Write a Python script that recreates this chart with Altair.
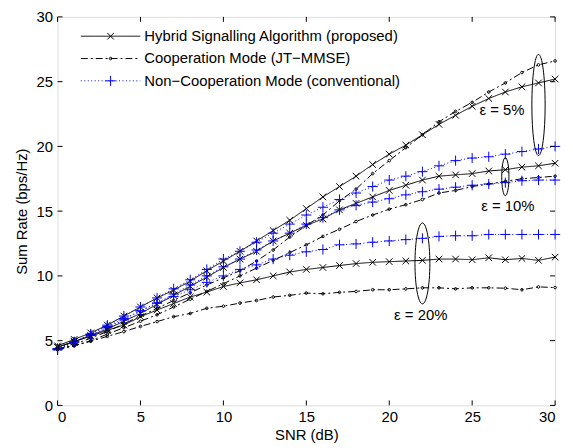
import altair as alt
import pandas as pd

snr = list(range(31))

hyb_5 = [4.6, 5.1, 5.6, 6.2, 6.9, 7.6, 8.3, 8.9, 9.6, 10.4, 11.15, 11.9, 12.7, 13.5, 14.3, 15.2,
         16.1, 16.9, 17.7, 18.6, 19.4, 20.1, 20.9, 21.7, 22.4, 23.1, 23.7, 24.2, 24.6, 24.9, 25.2]
coop_5 = [4.3, 4.7, 5.2, 5.7, 6.3, 6.9, 7.5, 8.1, 8.7, 9.3, 9.85, 10.4, 11.15, 12.0, 13.0, 13.9,
          14.7, 15.8, 16.7, 17.9, 18.9, 19.9, 20.9, 21.9, 22.7, 23.4, 24.2, 24.9, 25.7, 26.3, 26.6]
nc_5 = [4.3, 4.9, 5.5, 6.2, 6.9, 7.6, 8.3, 9.0, 9.7, 10.5, 11.3, 11.9, 12.6, 13.3, 14.0, 14.7,
        15.3, 15.9, 16.4, 16.9, 17.4, 17.7, 18.05, 18.5, 18.9, 19.1, 19.2, 19.4, 19.6, 19.8, 20.0]

hyb_10 = [4.5, 4.9, 5.4, 5.9, 6.5, 7.1, 7.8, 8.5, 9.2, 9.9, 10.65, 11.3, 11.9, 12.7, 13.3, 13.9,
          14.4, 15.1, 15.6, 16.1, 16.6, 17.0, 17.4, 17.7, 17.8, 17.9, 18.1, 18.2, 18.4, 18.5, 18.7]
coop_10 = [4.3, 4.6, 5.0, 5.5, 6.0, 6.5, 7.0, 7.6, 8.2, 8.8, 9.4, 10.0, 10.6, 11.2, 11.8, 12.4,
           13.05, 13.6, 14.2, 14.7, 15.15, 15.5, 15.9, 16.4, 16.6, 16.9, 17.1, 17.3, 17.5, 17.6, 17.7]
nc_10 = [4.4, 4.9, 5.4, 6.0, 6.6, 7.3, 7.9, 8.6, 9.3, 10.0, 10.7, 11.3, 12.0, 12.7, 13.3, 14.0,
         14.5, 15.1, 15.45, 15.7, 15.96, 16.26, 16.5, 16.7, 16.85, 17.0, 17.1, 17.2, 17.35, 17.4, 17.4]

hyb_20 = [4.5, 4.95, 5.33, 5.8, 6.2, 6.85, 7.36, 7.87, 8.37, 8.75, 9.18, 9.46, 9.7, 10.0, 10.3, 10.5,
          10.65, 10.8, 10.95, 11.05, 11.1, 11.15, 11.2, 11.3, 11.3, 11.25, 11.4, 11.25, 11.35, 11.2, 11.45]
coop_20 = [4.4, 4.6, 4.95, 5.33, 5.7, 6.1, 6.47, 6.85, 7.1, 7.5, 7.66, 7.9, 8.1, 8.37, 8.5, 8.67,
           8.62, 8.73, 8.8, 8.93, 8.93, 9.0, 9.08, 9.08, 9.0, 9.08, 9.08, 9.05, 8.93, 9.15, 9.1]
nc_20 = [4.3, 4.9, 5.5, 6.1, 6.7, 7.3, 7.9, 8.4, 8.93, 9.5, 10.0, 10.5, 10.85, 11.3, 11.6, 11.86,
         12.04, 12.4, 12.47, 12.6, 12.7, 12.8, 12.9, 13.05, 13.1, 13.1, 13.2, 13.2, 13.2, 13.2, 13.2]

methods = ["Hybrid Signalling Algorithm (proposed)",
           "Cooperation Mode (JT\u2212MMSE)",
           "Non\u2212Cooperation Mode (conventional)"]

series = {
    ("5%", methods[0]): hyb_5, ("5%", methods[1]): coop_5, ("5%", methods[2]): nc_5,
    ("10%", methods[0]): hyb_10, ("10%", methods[1]): coop_10, ("10%", methods[2]): nc_10,
    ("20%", methods[0]): hyb_20, ("20%", methods[1]): coop_20, ("20%", methods[2]): nc_20,
}

ticks = [0, 5, 10, 15, 20, 25, 30]

ell_x = [29, 27, 22]
ell_y = [23.2, 17.66, 10.96]
ell_half_px = [51, 19.2, 40.8]
ell_ratio = [0.131, 0.19, 0.184]

ann_text = ["\u03b5 = 5%", "\u03b5 = 10%", "\u03b5 = 20%"]
ann_x = [26.8, 27.15, 21.9]
ann_y = [22.8, 15.4, 6.94]

rows = []
for (e, m), vals in series.items():
    for s, v in zip(snr, vals):
        rows.append({"snr": s, "rate": v, "method": m, "eps": e})
df = pd.DataFrame(rows)

W, H = 502, 392
FONT = "Liberation Sans"
FS = 15

colors = ["black", "black", "blue"]
dashes = [[1, 0], [7, 3, 2, 3], [1, 2.5]]
marker_paths = [
    "M-1.1,-1.1L1.1,1.1M-1.1,1.1L1.1,-1.1",
    "M0.45,0A0.45,0.45 0 1,1 -0.45,0A0.45,0.45 0 1,1 0.45,0",
    "M-1.7,0L1.7,0M0,-1.7L0,1.7",
]

xs = alt.X("snr:Q", scale=alt.Scale(domain=[0, 30], nice=False),
           axis=alt.Axis(values=ticks, title="SNR (dB)", ticks=False, domain=False, grid=False,
                         labelFontSize=FS, labelFont=FONT, labelPadding=4, labelColor="black",
                         titleFont=FONT, titleFontSize=FS, titleFontWeight="normal",
                         titleColor="black", titlePadding=3))
ys = alt.Y("rate:Q", scale=alt.Scale(domain=[0, 30], nice=False),
           axis=alt.Axis(values=ticks, title="Sum Rate (bps/Hz)", ticks=False, domain=False,
                         grid=False, labelFontSize=FS, labelFont=FONT, labelPadding=5,
                         labelColor="black", titleFont=FONT, titleFontSize=FS,
                         titleFontWeight="normal", titleColor="black", titlePadding=7))

LX, LY = 46, 12
leg_line = alt.Legend(title=None, orient="none", legendX=LX, legendY=LY,
                      symbolType="M-10,0L10,0", symbolSize=36, symbolStrokeWidth=1,
                      labelOffset=26.5, labelFont=FONT, labelFontSize=FS, labelColor="black",
                      rowPadding=6.5, labelLimit=500)
leg_pt = alt.Legend(title=None, orient="none", legendX=LX, legendY=LY,
                    symbolSize=36, symbolStrokeWidth=1,
                    labelOffset=26.5, labelFont=FONT, labelFontSize=FS, labelColor="black",
                    labelOpacity=0, rowPadding=6.5, labelLimit=500)

base = alt.Chart(df)

lines = base.mark_line(strokeWidth=1).encode(
    x=xs, y=ys,
    color=alt.Color("method:N", scale=alt.Scale(domain=methods, range=colors), legend=leg_line),
    strokeDash=alt.StrokeDash("method:N", scale=alt.Scale(domain=methods, range=dashes),
                              legend=leg_line),
    detail="eps:N",
)

points = base.mark_point(size=36, strokeWidth=1, opacity=1).encode(
    x="snr:Q", y="rate:Q",
    color=alt.Color("method:N", scale=alt.Scale(domain=methods, range=colors), legend=leg_pt),
    shape=alt.Shape("method:N", scale=alt.Scale(domain=methods, range=marker_paths),
                    legend=leg_pt),
)

ell_df = pd.DataFrame({
    "x": ell_x, "y": ell_y,
    "size": [(2 * h) ** 2 for h in ell_half_px],
    "path": [f"M0,-1A{r},1 0 1,1 0,1A{r},1 0 1,1 0,-1" for r in ell_ratio],
})
ellipses = alt.Chart(ell_df).mark_point(strokeWidth=1, color="black", opacity=1).encode(
    x="x:Q", y="y:Q",
    size=alt.Size("size:Q", scale=None, legend=None),
    shape=alt.Shape("path:N", scale=None, legend=None),
)

ann_df = pd.DataFrame({"x": ann_x, "y": ann_y, "t": ann_text})
anns = alt.Chart(ann_df).mark_text(font=FONT, fontSize=FS, color="black",
                                   baseline="middle", align="center").encode(
    x="x:Q", y="y:Q", text="t:N")

tick_df = pd.DataFrame({"v": ticks})
tb = alt.Chart(tick_df).mark_rule(color="black", strokeWidth=1)
t_bottom = tb.encode(x="v:Q", y=alt.value(H), y2=alt.value(H - 5))
t_top = tb.encode(x="v:Q", y=alt.value(0), y2=alt.value(5))
t_left = tb.encode(y="v:Q", x=alt.value(0), x2=alt.value(5))
t_right = tb.encode(y="v:Q", x=alt.value(W), x2=alt.value(W - 5))

chart = alt.layer(
    lines, points, ellipses, anns, t_bottom, t_top, t_left, t_right
).resolve_scale(
    color="independent", strokeDash="independent", shape="independent", size="independent"
).properties(
    width=W, height=H,
    autosize=alt.AutoSizeParams(type="none"),
    padding={"left": 50, "top": 7, "right": 10, "bottom": 40},
).configure_view(
    stroke="black", strokeWidth=1
).configure(background="white")

chart.save("out.html", embed_options={"renderer": "svg", "actions": False})
